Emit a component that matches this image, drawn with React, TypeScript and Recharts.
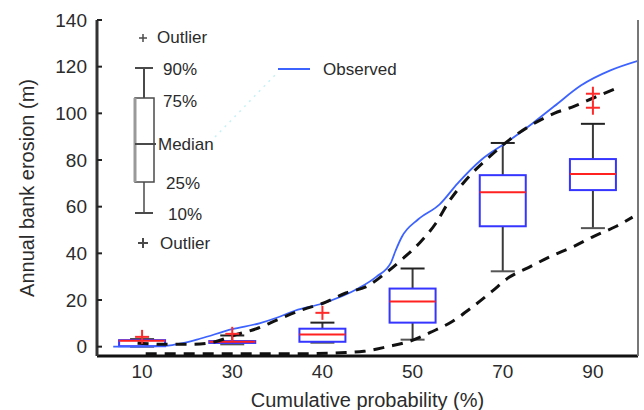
import { Bar, ComposedChart, Legend, Line, Scatter, XAxis, YAxis } from "recharts";

const FONT = "'Liberation Sans', Arial, sans-serif";
const TEXT = "#2b2b2b";

// box plot stats per cumulative probability class
const categories = ["10", "30", "40", "50", "70", "90"];
const whiskerLow = [0, 1.0, 1.7, 3, 32.3, 50.8];
const quart1 = [0.2, 1.6, 2.1, 10.3, 51.6, 67.1];
const medians = [2.5, 2.1, 5.2, 19.4, 66.2, 74];
const quart3 = [2.8, 2.4, 7.7, 24.9, 73.5, 80.4];
const whiskerHigh = [3.2, 4.8, 10.3, 33.5, 87.3, 95.5];
const outliers: [number, number][] = [
  [0, 4.2],
  [1, 5.5],
  [2, 14.5],
  [5, 102.4],
  [5, 108.4]
];

// curves, x in class units (class i is centred at i + 0.5)
const observed: [number, number][] = [
  [0.18, 0], [0.45, 0], [0.75, 0.3], [0.95, 1.5], [1.15, 3.5], [1.5, 7.5],
  [1.8, 10], [2.0, 12.5], [2.2, 15.5], [2.5, 18.5], [2.9, 25], [3.1, 30],
  [3.26, 36], [3.31, 41], [3.38, 47], [3.56, 54.5], [3.8, 61], [4.0, 70],
  [4.26, 80], [4.56, 88], [4.84, 96], [5.07, 103], [5.37, 112], [5.7, 118.5],
  [6.0, 122.5]
];
const upperBound: [number, number][] = [
  [0.45, 1.5], [0.75, 1], [1.05, 1], [1.3, 2], [1.53, 5], [1.79, 8], [2.0, 11.5],
  [2.29, 16], [2.5, 18.5], [2.76, 23], [3.0, 26], [3.2, 31.5], [3.4, 38],
  [3.59, 45], [3.76, 53], [3.9, 62], [4.07, 70.5], [4.4, 83], [4.62, 90],
  [4.84, 95.5], [5.07, 100], [5.29, 103], [5.53, 107], [5.78, 111]
];
const lowerBound: [number, number][] = [
  [0.54, -3], [1.5, -3], [2.26, -3], [2.7, -2.6], [2.96, -2], [3.22, 0],
  [3.46, 2.2], [3.72, 6.5], [3.94, 10.8], [4.17, 17.2], [4.38, 23.7],
  [4.57, 29.7], [4.79, 34], [5.03, 38.7], [5.29, 43], [5.51, 47.3],
  [5.76, 51.6], [5.94, 55.5]
];

const yTicks = [0, 20, 40, 60, 80, 100, 120, 140];
const xTicks = categories.map((_, i) => i + 0.5);

const boxData = categories.map((label, i) => ({
  x: i + 0.5,
  label,
  low: whiskerLow[i],
  q1: quart1[i],
  median: medians[i],
  q3: quart3[i],
  high: whiskerHigh[i],
  box: [quart1[i], quart3[i]]
}));

const toPoints = (pts: [number, number][]) => pts.map(([x, v]) => ({ x, v }));
const outlierData = outliers.map(([i, v]) => ({ x: i + 0.5, v }));

const BOX_W = 46;

function BoxShape(props: any) {
  const { x, y, width, height, payload } = props;
  if (!payload) return null;
  const top = Math.min(y, y + height);
  const h = Math.abs(height);
  const span = payload.q3 - payload.q1;
  const k = span > 0 ? h / span : 0;
  const py = (v: number) => top + (payload.q3 - v) * k;
  const cx = x + width / 2;
  const left = cx - BOX_W / 2;
  const cap = 12;
  return (
    <g>
      <line x1={cx} x2={cx} y1={py(payload.high)} y2={top} stroke="#3a3a3a" strokeWidth={2} />
      <line x1={cx} x2={cx} y1={top + h} y2={py(payload.low)} stroke="#3a3a3a" strokeWidth={2} />
      <line x1={cx - cap} x2={cx + cap} y1={py(payload.high)} y2={py(payload.high)} stroke="#222" strokeWidth={2} />
      <line x1={cx - cap} x2={cx + cap} y1={py(payload.low)} y2={py(payload.low)} stroke="#555" strokeWidth={2} />
      <rect x={left} y={top} width={BOX_W} height={h} fill="#fff" stroke="#3535ff" strokeWidth={2} />
      <line x1={left} x2={left + BOX_W} y1={py(payload.median)} y2={py(payload.median)} stroke="#ff2020" strokeWidth={2} />
    </g>
  );
}

function Cross(props: any) {
  const { cx, cy } = props;
  const r = 7;
  return (
    <g stroke="#ff2a2a" strokeWidth={2}>
      <line x1={cx - r} x2={cx + r} y1={cy} y2={cy} />
      <line x1={cx} x2={cx} y1={cy - r} y2={cy + r} />
    </g>
  );
}

function KeyPanel(props: any) {
  const entry = (props.payload || []).find((p: any) => p.value === "Observed");
  const t = { fontFamily: FONT, fontSize: 17, fill: TEXT, dominantBaseline: "central" as const };
  const g = "#4a4a4a";
  return (
    <svg width={644} height={410} style={{ position: "absolute", left: 0, top: 0 }}>
      <line x1={215} y1={137} x2={278} y2={72} stroke="#c6f1f6" strokeWidth={1.5} strokeDasharray="2 5" />
      <g stroke={g} strokeWidth={1.5}>
        <line x1={139} x2={147} y1={38} y2={38} />
        <line x1={143} x2={143} y1={34} y2={42} />
        <line x1={135} x2={153} y1={68} y2={68} strokeWidth={2} />
        <line x1={144} x2={144} y1={68} y2={98} strokeWidth={2} />
        <rect x={135} y={98} width={19} height={84} fill="none" />
        <line x1={135} x2={135} y1={98} y2={182} stroke="#999" strokeWidth={3} />
        <line x1={135} x2={156} y1={144} y2={144} strokeWidth={2} />
        <line x1={144} x2={144} y1={182} y2={213} />
        <line x1={135} x2={153} y1={213} y2={213} strokeWidth={2} />
        <line x1={138} x2={148} y1={243} y2={243} strokeWidth={2} />
        <line x1={143} x2={143} y1={238} y2={248} strokeWidth={2} />
      </g>
      <text x={157} y={37} {...t}>Outlier</text>
      <text x={163} y={69} {...t}>90%</text>
      <text x={163} y={101} {...t}>75%</text>
      <text x={158} y={144} {...t}>Median</text>
      <text x={166} y={183} {...t}>25%</text>
      <text x={168} y={214} {...t}>10%</text>
      <text x={160} y={243} {...t}>Outlier</text>
      {entry && (
        <g>
          <line x1={278} x2={310} y1={69} y2={69} stroke={entry.color} strokeWidth={2} />
          <text x={323} y={69} {...t}>{entry.value}</text>
        </g>
      )}
    </svg>
  );
}

export default function App() {
  const tickStyle = { fontSize: 19, fill: TEXT, fontFamily: FONT };
  return (
    <div style={{ position: "absolute", left: 0, top: 0, width: 644, height: 410, background: "#fff" }}>
      <ComposedChart width={644} height={410} data={boxData} margin={{ top: 20, right: 0, bottom: 0, left: 0 }}>
        <XAxis
          dataKey="x"
          type="number"
          domain={[0, 6]}
          ticks={xTicks}
          tickFormatter={(v: number) => categories[Math.round(v - 0.5)]}
          allowDataOverflow
          height={54}
          tickSize={0}
          tickMargin={9}
          tickLine={false}
          axisLine={{ stroke: "#111", strokeWidth: 3 }}
          tick={tickStyle}
          label={{ value: "Cumulative probability (%)", position: "insideBottom", offset: 3, fontSize: 20, fill: TEXT, fontFamily: FONT }}
        />
        <XAxis
          xAxisId="top"
          orientation="top"
          type="number"
          domain={[0, 6]}
          height={0}
          tick={false}
          tickLine={false}
          axisLine={{ stroke: "#111", strokeWidth: 3 }}
        />
        <YAxis
          type="number"
          domain={[-4, 140]}
          ticks={yTicks}
          allowDataOverflow
          width={97}
          tickSize={-5}
          tickMargin={15}
          axisLine={{ stroke: "#333", strokeWidth: 3 }}
          tickLine={{ stroke: "#222", strokeWidth: 2 }}
          tick={tickStyle}
          label={{ value: "Annual bank erosion (m)", angle: -90, position: "insideLeft", offset: 27, fontSize: 20, fill: TEXT, fontFamily: FONT, style: { textAnchor: "middle" } }}
        />
        <YAxis
          yAxisId="right"
          orientation="right"
          type="number"
          domain={[-4, 140]}
          ticks={yTicks}
          width={6}
          tickSize={-6}
          tick={false}
          axisLine={{ stroke: "#777", strokeWidth: 2 }}
          tickLine={{ stroke: "#444", strokeWidth: 2 }}
        />
        <Legend layout="horizontal" verticalAlign="middle" align="center" content={KeyPanel}
          wrapperStyle={{ position: "absolute", left: 0, top: 0, width: 644, height: 410, pointerEvents: "none" }} />
        <Bar dataKey="box" shape={BoxShape} isAnimationActive={false} legendType="none" />
        <Line data={toPoints(observed)} dataKey="v" name="Observed" type="monotone" stroke="#3d63ff" strokeWidth={1.8} dot={false} isAnimationActive={false} />
        <Line data={toPoints(upperBound)} dataKey="v" name="upper" type="monotone" stroke="#111" strokeWidth={3} strokeDasharray="11 8" dot={false} legendType="none" isAnimationActive={false} />
        <Line data={toPoints(lowerBound)} dataKey="v" name="lower" type="monotone" stroke="#111" strokeWidth={3} strokeDasharray="11 8" dot={false} legendType="none" isAnimationActive={false} />
        <Scatter data={outlierData} dataKey="v" shape={Cross} legendType="none" isAnimationActive={false} />
      </ComposedChart>
    </div>
  );
}
